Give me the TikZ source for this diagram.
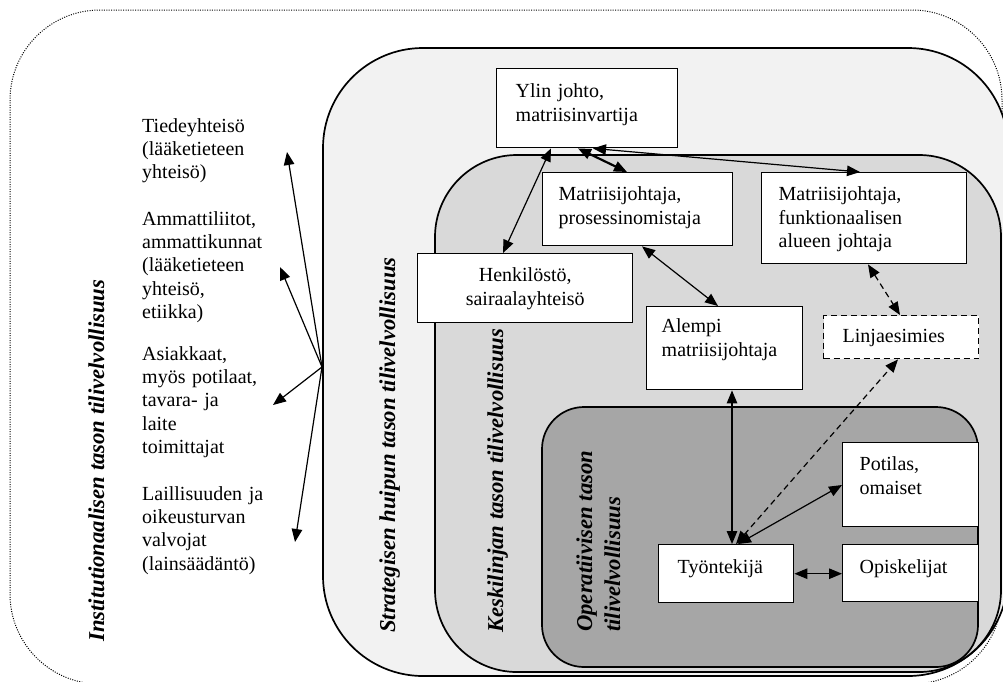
\documentclass[tikz,border=0pt]{standalone}
\usepackage{fontspec}
\setmainfont{Liberation Serif}
\usetikzlibrary{arrows.meta,calc}
\definecolor{levA}{HTML}{F2F2F2}
\definecolor{levB}{HTML}{D9D9D9}
\definecolor{levC}{HTML}{A6A6A6}
\tikzset{
  every node/.style={font=\fontsize{20}{23.4}\selectfont},
  box/.style={draw, line width=1.4pt, fill=white, anchor=north west, inner ysep=0pt, align=left},
  lbl/.style={rotate=90, anchor=base west, inner sep=0pt, font=\fontsize{22.7}{28}\selectfont\bfseries\itshape},
  side/.style={anchor=base west, inner sep=0pt, text width=160pt, align=left},
  tipA/.tip={Triangle[length=13pt,width=10.5pt]},
  link/.style={line width=1.2pt, tipA-tipA},
  oneway/.style={line width=1.2pt, -tipA},
  dashlink/.style={link, dash pattern=on 6pt off 4pt},
  level/.style={draw=black, line width=1.7pt},
  outerdots/.style={draw=black, line width=1pt, dash pattern=on 1pt off 1.4pt},
}
\begin{document}
\begin{tikzpicture}[x=1pt,y=-1pt]
\useasboundingbox (0,0) rectangle (1003,681);
\clip (0,0) rectangle (1003,681);
% levels
\draw[outerdots, rounded corners=90pt] (10,10) rectangle (1002,684);
\filldraw[level, fill=levA, rounded corners=100pt] (323,48) rectangle (1008,676);
\filldraw[level, fill=levB, rounded corners=82pt] (435,155) rectangle (1001,672);
\filldraw[level, fill=levC, rounded corners=42pt] (542,407) rectangle (978,667);

% vertical labels
\node[lbl] (inst) at (104,642) {Institutionaalisen tason tilivelvollisuus};
\node[lbl] (strat) at (395,633) {Strategisen huipun tason tilivelvollisuus};
\node[lbl] (kesk) at (503,633) {Keskilinjan tason tilivelvollisuus};
\node[lbl] (opA) at (592,632) {Operatiivisen tason};
\node[lbl] (opB) at (620,632) {tilivelvollisuus};

% side texts
\node[side] (tiede) at (142,132) {Tiedeyhteisö\\(lääketieteen\\yhteisö)};
\node[side] (amm) at (142,225) {Ammattiliitot,\\ammattikunnat\\(lääketieteen\\yhteisö,\\etiikka)};
\node[side] (asi) at (142,360) {Asiakkaat,\\myös potilaat,\\tavara- ja\\laite\\toimittajat};
\node[side] (lai) at (142,500) {Laillisuuden ja\\oikeusturvan\\valvojat\\(lainsäädäntö)};

% boxes
\node[box, inner xsep=19pt, text width=143pt, text height=29pt, text depth=50pt] (ylin) at (496,68) {Ylin johto,\\matriisinvartija};
\node[box, inner xsep=16pt, text width=158pt, text height=28pt, text depth=45pt] (proc) at (542,172) {Matriisijohtaja,\\prosessinomistaja};
\node[box, inner xsep=17pt, text width=171pt, text height=28pt, text depth=63pt] (funk) at (761,172) {Matriisijohtaja,\\funktionaalisen\\alueen johtaja};
\node[box, align=center, inner xsep=10pt, text width=195pt, text height=28pt, text depth=41pt] (henk) at (417,253) {Henkilöstö,\\sairaalayhteisö};
\node[box, inner xsep=15pt, text width=126pt, text height=26pt, text depth=57pt] (alempi) at (646,306) {Alempi\\matriisijohtaja};
\node[box, dash pattern=on 6pt off 4pt, inner xsep=19pt, text width=117pt, text height=27pt, text depth=16pt] (linja) at (823,315) {Linjaesimies};
\node[box, inner xsep=17pt, text width=102pt, text height=28pt, text depth=56pt] (potilas) at (842,442) {Potilas,\\omaiset};
\node[box, inner xsep=19pt, text width=97pt, text height=29pt, text depth=29pt] (tyon) at (658,544) {Työntekijä};
\node[box, inner xsep=17pt, text width=102pt, text height=29pt, text depth=28pt] (opis) at (842,544) {Opiskelijat};

% connectors between boxes
\draw[link] ($(henk.north west)+(86,0)$) -- ($(ylin.south west)+(55,0)$);
\draw[link, line width=2.2pt] ($(ylin.south west)+(82,0)$) -- ($(proc.north west)+(85,0)$);
\draw[link] ($(ylin.south west)+(97,0)$) -- ($(funk.north west)+(99,0)$);
\draw[link] ($(proc.south west)+(100,0)$) -- ($(alempi.north west)+(72,0)$);
\draw[dashlink] ($(funk.south west)+(107,0)$) -- ($(linja.north west)+(77,0)$);
\draw[link] ($(alempi.south west)+(86,0)$) -- ($(tyon.north west)+(74,0)$);
\draw[dashlink] ($(tyon.north west)+(78,0)$) -- ($(linja.south west)+(75,0)$);
\draw[link] ($(tyon.north west)+(80,0)$) -- ($(potilas.north west)+(0,43)$);
\draw[link] (tyon.east) -- (tyon.east -| opis.west);

% institutional arrows
\coordinate (hub) at (322,367);
\coordinate (tA) at (287,152);
\coordinate (tB) at (280,267);
\coordinate (tC) at (273,405);
\coordinate (tD) at (295,542);
\draw[oneway] (hub) -- (tA);
\draw[oneway] (hub) -- (tB);
\draw[oneway] (hub) -- (tC);
\draw[oneway] (hub) -- (tD);
\end{tikzpicture}
\end{document}
